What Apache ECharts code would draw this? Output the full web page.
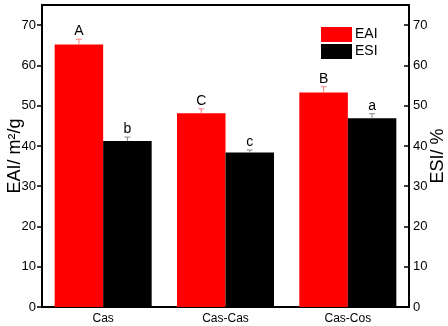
<!DOCTYPE html>
<html>
<head>
<meta charset="utf-8">
<script src="https://cdn.jsdelivr.net/npm/echarts@6/dist/echarts.min.js"></script>
<style>html,body{margin:0;padding:0;background:#fff;}#c{width:448px;height:326px;}</style>
</head>
<body>
<div id="c"></div>
<script>
var categories = ['Cas', 'Cas-Cas', 'Cas-Cos'];
var eai = [65.2, 48.1, 53.3];
var esi = [41.2, 38.4, 46.9];
var eaiErr = [1.3, 1.1, 1.4];
var esiErr = [1.0, 0.6, 1.1];
var eaiLetters = ['A', 'C', 'B'];
var esiLetters = ['b', 'c', 'a'];
var yTicks = [0, 10, 20, 30, 40, 50, 60, 70];

var FONT = 'Liberation Sans, Arial, sans-serif';
var GAP = 0.207;

function errSeries(vals, errs, letters, side, color) {
  var data = vals.map(function (v, i) { return [i, v, errs[i], letters[i]]; });
  return {
    type: 'custom',
    yAxisIndex: 0,
    z: 5,
    silent: true,
    data: data,
    renderItem: function (params, api) {
      var idx = api.value(0);
      var v = api.value(1);
      var e = api.value(2);
      var band = api.size([1, 0])[0];
      var bw = band * (1 - GAP) / 2;
      var c = api.coord([idx, v]);
      var x = c[0] + side * bw / 2;
      var yTop = api.coord([idx, v + e])[1];
      var yBar = c[1];
      var cap = 3;
      return {
        type: 'group',
        children: [
          { type: 'line', shape: { x1: x, y1: yBar, x2: x, y2: yTop }, style: { stroke: color, lineWidth: 1 } },
          { type: 'line', shape: { x1: x - cap, y1: yTop, x2: x + cap, y2: yTop }, style: { stroke: color, lineWidth: 1 } },
          { type: 'text', x: x, y: yTop - 1, style: { text: api.value(3), fill: '#000', font: '14px ' + FONT, align: 'center', verticalAlign: 'bottom' } }
        ]
      };
    }
  };
}

var chart = echarts.init(document.getElementById('c'), null, { renderer: 'canvas' });
chart.setOption({
  animation: false,
  backgroundColor: '#fff',
  textStyle: { fontFamily: FONT },
  grid: { left: 42, right: 39, top: 5, bottom: 19, show: true, borderColor: '#000', borderWidth: 2, backgroundColor: 'transparent', containLabel: false, outerBoundsMode: 'none' },
  legend: {
    data: ['EAI', 'ESI'],
    orient: 'vertical',
    left: 316, top: 22,
    itemWidth: 31, itemHeight: 15, itemGap: 2,
    icon: 'rect',
    textStyle: { fontSize: 14, color: '#000', fontFamily: FONT, padding: [0, 0, 0, -2] }
  },
  xAxis: {
    type: 'category',
    data: categories,
    axisLine: { lineStyle: { color: '#000', width: 2 } },
    axisTick: { show: false },
    axisLabel: { color: '#000', fontSize: 12, fontFamily: FONT, margin: 6 }
  },
  yAxis: [
    {
      type: 'value', min: 0, max: 75, interval: 10, position: 'left',
      name: 'EAI/ m\u00B2/g', nameLocation: 'middle', nameRotate: 90, nameGap: 18, nameMoveOverlap: false,
      nameTextStyle: { fontSize: 18, color: '#000', fontFamily: FONT },
      splitLine: { show: false },
      axisLine: { show: true, lineStyle: { color: '#000', width: 2 } },
      axisTick: { show: true, inside: false, length: 5, customValues: yTicks, lineStyle: { color: '#000', width: 1.5 } },
      axisLabel: { color: '#000', fontSize: 13, fontFamily: FONT, margin: 6, customValues: yTicks }
    },
    {
      type: 'value', min: 0, max: 75, interval: 10, position: 'right',
      name: 'ESI/ %', nameLocation: 'middle', nameRotate: 90, nameGap: 20, nameMoveOverlap: false,
      nameTextStyle: { fontSize: 18, color: '#000', fontFamily: FONT },
      splitLine: { show: false },
      axisLine: { show: true, lineStyle: { color: '#000', width: 2 } },
      axisTick: { show: true, inside: true, length: 5, customValues: yTicks, lineStyle: { color: '#000', width: 1.5 } },
      axisLabel: { color: '#000', fontSize: 13, fontFamily: FONT, margin: 4, customValues: yTicks }
    }
  ],
  series: [
    { name: 'EAI', type: 'bar', data: eai, itemStyle: { color: '#ff0000' }, barGap: '0%', barCategoryGap: (GAP * 100) + '%', yAxisIndex: 0 },
    { name: 'ESI', type: 'bar', data: esi, itemStyle: { color: '#000000' }, yAxisIndex: 0 },
    errSeries(eai, eaiErr, eaiLetters, -1, '#ff8080'),
    errSeries(esi, esiErr, esiLetters, 1, '#888888')
  ]
});
</script>
</body>
</html>
